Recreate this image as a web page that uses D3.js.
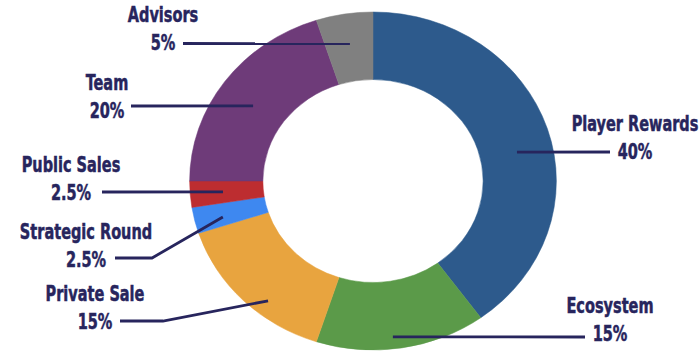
<!DOCTYPE html>
<html>
<head>
<meta charset="utf-8">
<script src="https://cdn.jsdelivr.net/npm/d3@7"></script>
<style>
  body { margin: 0; background: #fff; }
  svg text { font-family: "DejaVu Sans Condensed", "DejaVu Sans", sans-serif; font-weight: bold; }
</style>
</head>
<body>
<div id="chart"></div>
<script>
// Token allocation data ------------------------------------
const categories = ["Player Rewards", "Ecosystem", "Private Sale", "Strategic Round", "Public Sales", "Team", "Advisors"];
const shares = [40, 15, 15, 2.5, 2.5, 20, 5];
const valueLabels = ["40%", "15%", "15%", "2.5%", "2.5%", "20%", "5%"];
const colors = ["#2d5a8c", "#5b9a49", "#e8a43f", "#3e88f0", "#bd2d30", "#6e3b79", "#808080"];

const textColor = "#27255d";

// size of page and donut
var width = 700, height = 353;
var cx = 373, cy = 181, sx = 1.085; // donut is slightly stretched sideways
var outerR = 169, innerR = 101.5;
var squeeze = 0.75; // narrow the label font horizontally

var svg = d3.select("#chart")
    .append("svg")
    .attr("width", width)
    .attr("height", height);

var pie = d3.pie().sort(null).value(function (d) { return d; });
var arc = d3.arc().innerRadius(innerR).outerRadius(outerR);

var donut = svg.append("g")
    .attr("transform", "translate(" + cx + "," + cy + ") scale(" + sx + ",1)");

donut.selectAll("path")
    .data(pie(shares))
    .enter()
    .append("path")
    .attr("d", arc)
    .attr("fill", function (d, i) { return colors[i]; })
    .attr("stroke", function (d, i) { return colors[i]; }) // hide seams between slices
    .attr("stroke-width", 0.5);

// Label layout: text centre, baseline of name, leader line (end near text, optional elbow, angle/radius on ring)
var layout = [
    { x: 635, y: 131, lineY: 152, lineX: 610, ang: 77.7, r: 135.8 },
    { x: 610, y: 313, lineY: 337, lineX: 585, ang: 173.3, r: 157 },
    { x: 95, y: 301, lineY: 321, lineX: 120, elbowX: 163, ang: 218.9, r: 154 },
    { x: 86, y: 239, lineY: 258, lineX: 115, elbowX: 152, ang: 255.4, r: 143 },
    { x: 71, y: 172, lineY: 192, lineX: 102, ang: 265.5, r: 138.7 },
    { x: 107, y: 90, lineY: 106, lineX: 131, ang: 304.2, r: 133.6 },
    { x: 163, y: 22, lineY: 43.5, lineX: 183, ang: 351.2, r: 139 }
];

// point on the (stretched) ring for a given angle, clockwise from top
function ringPoint(ang, r) {
    var a = ang * Math.PI / 180;
    return [cx + sx * r * Math.sin(a), cy - r * Math.cos(a)];
}

var line = d3.line();

var labels = svg.append("g");

function addText(str, x, y) {
    labels.append("text")
        .attr("transform", "translate(" + x + "," + y + ") scale(" + squeeze + ",1)")
        .attr("text-anchor", "middle")
        .attr("font-size", 21.5)
        .attr("fill", textColor)
        .attr("stroke", textColor)
        .attr("stroke-width", 0.5)
        .text(str);
}

categories.forEach(function (name, i) {
    var l = layout[i];
    var p = ringPoint(l.ang, l.r);
    var pts = [[l.lineX, l.lineY]];
    if (l.elbowX !== undefined) pts.push([l.elbowX, l.lineY]);
    pts.push(p);

    labels.append("path")
        .attr("d", line(pts))
        .attr("fill", "none")
        .attr("stroke", textColor)
        .attr("stroke-width", 2.8);

    addText(name, l.x, l.y);
    addText(valueLabels[i], l.x, l.y + 28);
});
</script>
</body>
</html>
